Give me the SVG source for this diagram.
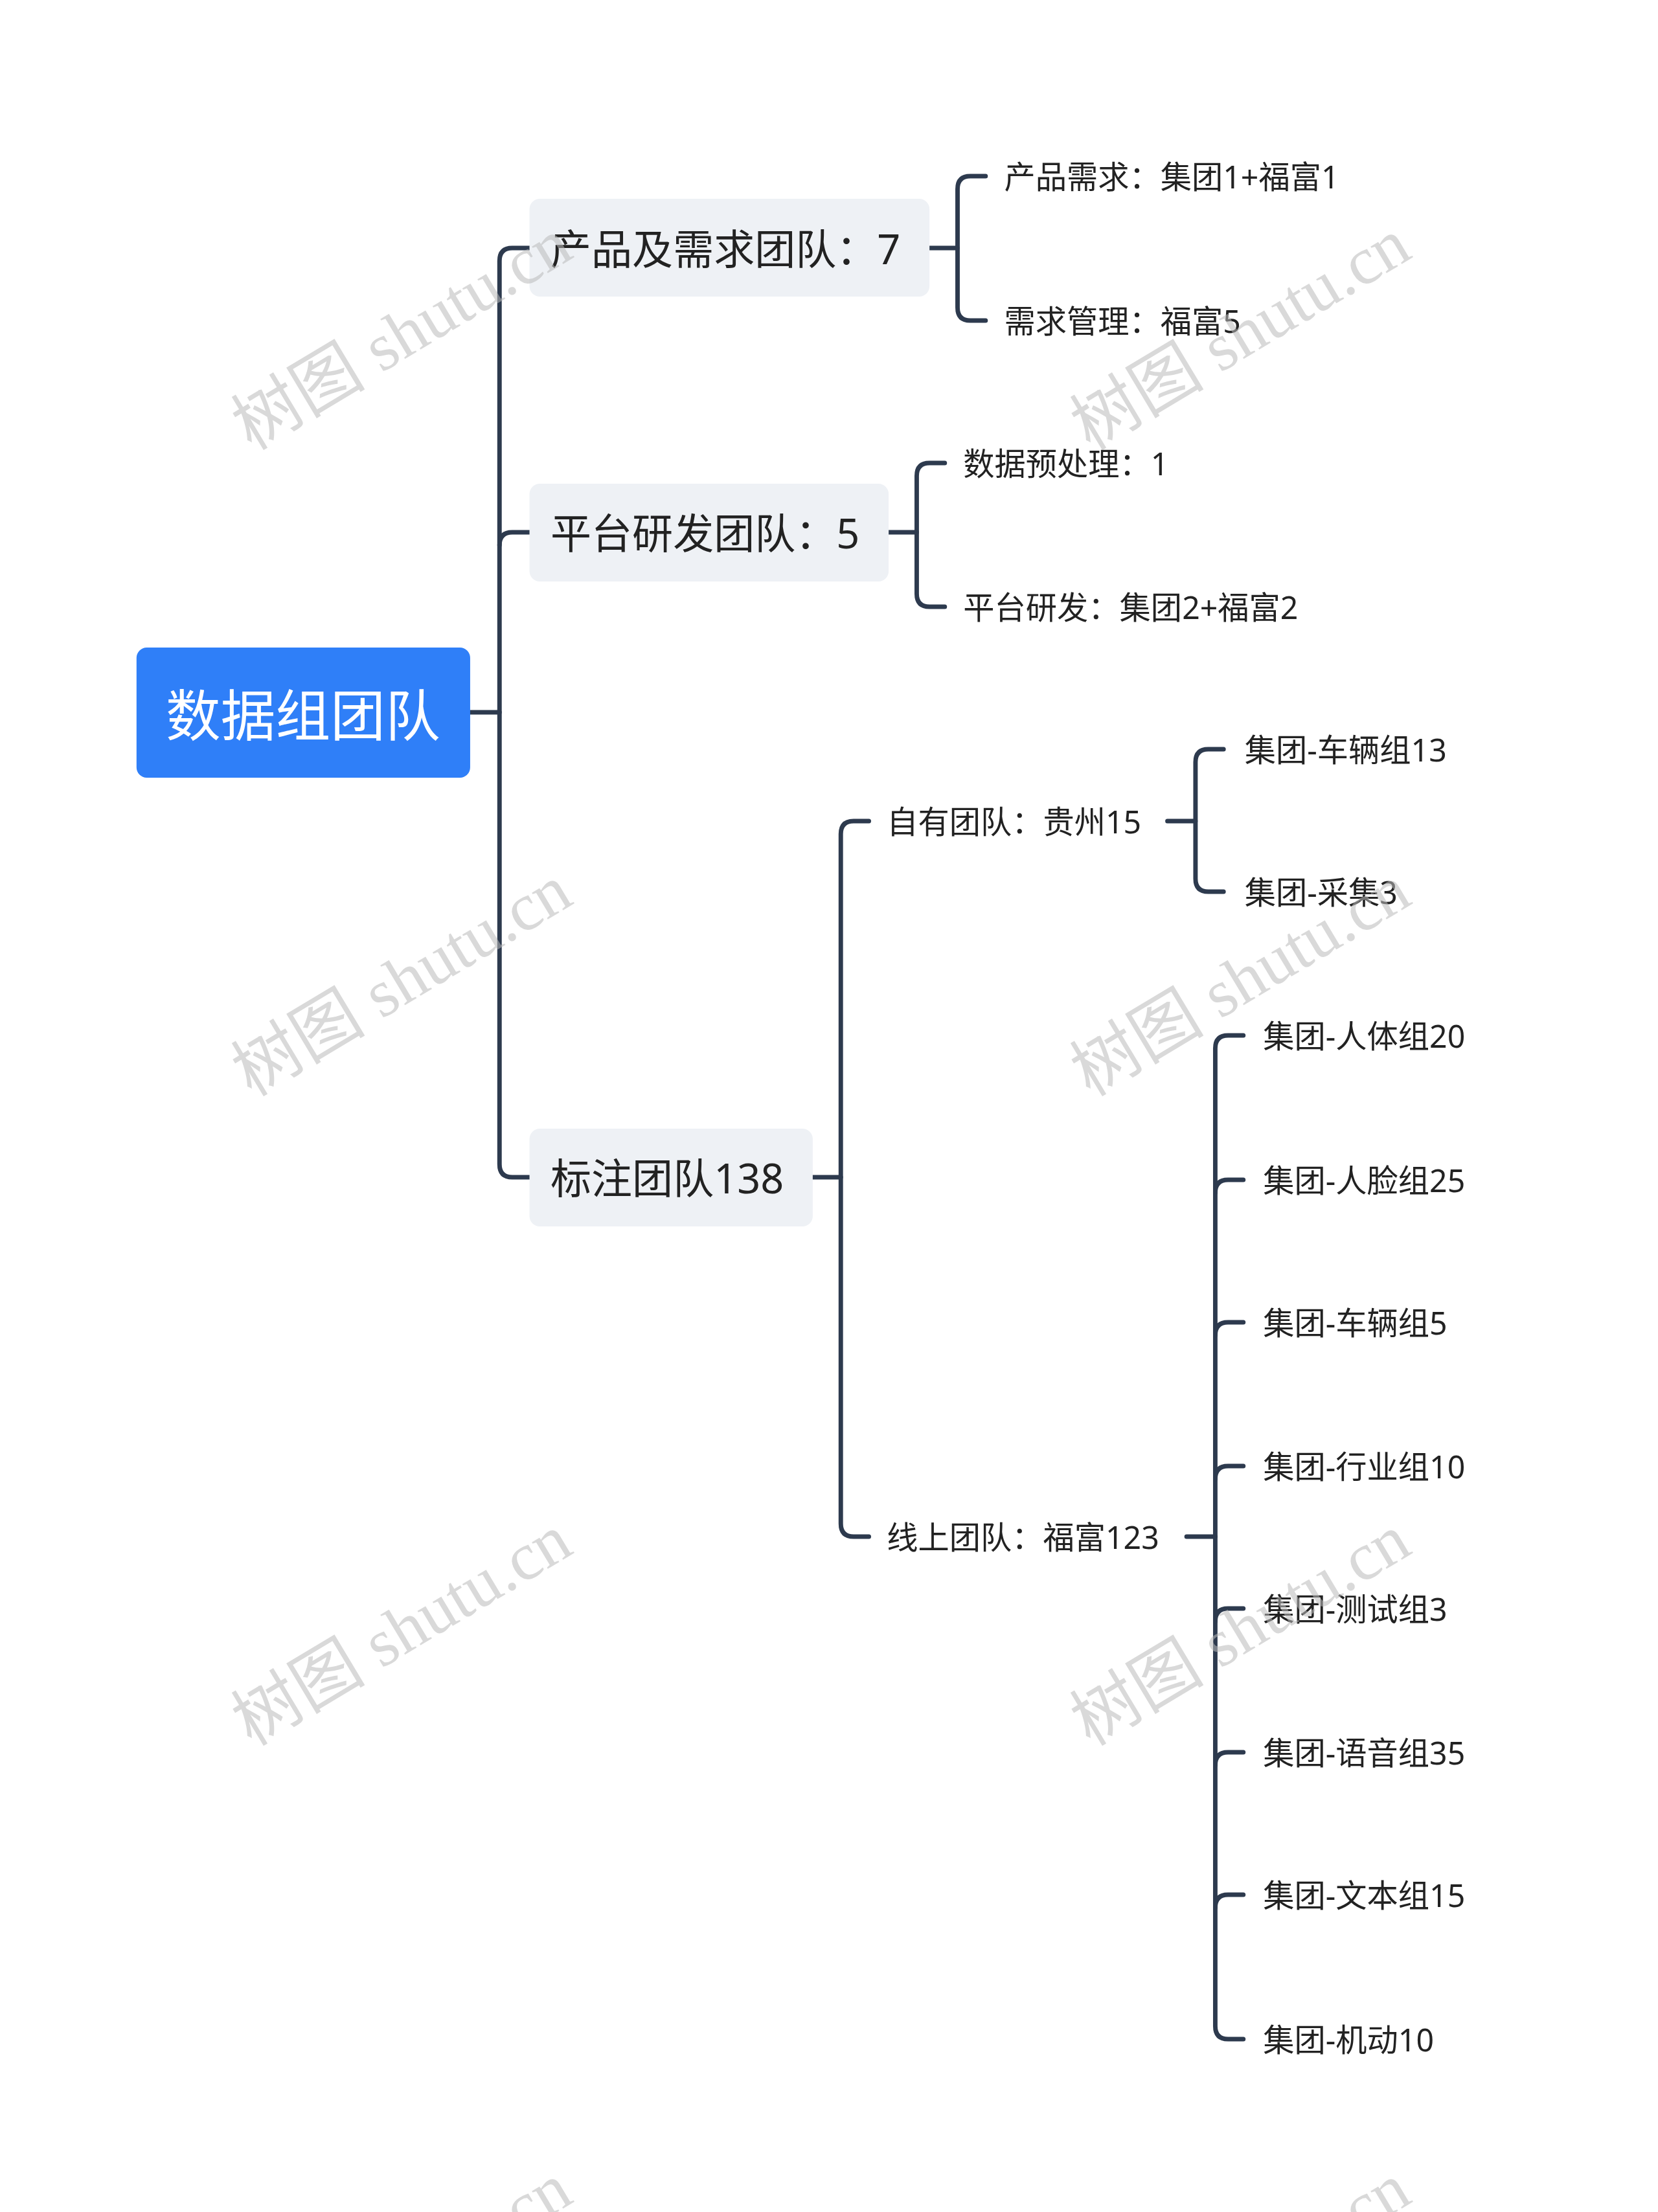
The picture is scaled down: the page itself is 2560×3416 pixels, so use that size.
<svg xmlns="http://www.w3.org/2000/svg" width="2560" height="3416" viewBox="0 0 2560 3416">
<style>
.ln{fill:none;stroke:#2d3a4e;stroke-width:7;stroke-linecap:round}
.t{font-family:"Noto Sans","Noto Sans CJK SC",sans-serif;fill:#222}
.l1{font-size:64px}
.l2{font-size:49px}
.wm{font-family:"Liberation Serif","Noto Sans CJK SC",serif;font-size:104px;fill:#bbb;opacity:0.55}
</style>
<rect width="2560" height="3416" fill="#fff"/>
<g transform="scale(0.985 1)">
<g id="connectors">
<path class="ln" d="M737 1100H783"/>
<path class="ln" d="M830 383H803Q783 383 783 403V1798Q783 1818 803 1818H830"/>
<path class="ln" d="M783 842Q783 822 803 822H830"/>
<path class="ln" d="M1457 383H1501"/>
<path class="ln" d="M1545 272H1521Q1501 272 1501 292V475Q1501 495 1521 495H1545"/>
<path class="ln" d="M1393 822H1437"/>
<path class="ln" d="M1481 715H1457Q1437 715 1437 735V917Q1437 937 1457 937H1481"/>
<path class="ln" d="M1274 1818H1318"/>
<path class="ln" d="M1362 1268H1338Q1318 1268 1318 1288V2353Q1318 2373 1338 2373H1362"/>
<path class="ln" d="M1830 1268H1874"/>
<path class="ln" d="M1918 1157H1894Q1874 1157 1874 1177V1357Q1874 1377 1894 1377H1918"/>
<path class="ln" d="M1860 2373H1905"/>
<path class="ln" d="M1949 1599H1925Q1905 1599 1905 1619V3129Q1905 3149 1925 3149H1949"/>
<path class="ln" d="M1905 1842Q1905 1822 1925 1822H1949"/>
<path class="ln" d="M1905 2062Q1905 2042 1925 2042H1949"/>
<path class="ln" d="M1905 2284Q1905 2264 1925 2264H1949"/>
<path class="ln" d="M1905 2504Q1905 2484 1925 2484H1949"/>
<path class="ln" d="M1905 2726Q1905 2706 1925 2706H1949"/>
<path class="ln" d="M1905 2946Q1905 2926 1925 2926H1949"/>
</g>
<g id="root"><rect x="214" y="1000" width="523" height="201" rx="16" fill="#2f7ff8"/><text x="475" y="1100" dominant-baseline="central" text-anchor="middle" font-family="Noto Sans CJK SC,sans-serif" font-size="86" fill="#fff">数据组团队</text></g>
<g id="n1"><rect x="830" y="307" width="627" height="151" rx="16" fill="#eef1f5"/><text class="t l1" x="863" y="383" dominant-baseline="central">产品及需求团队：7</text></g>
<g id="n2"><rect x="830" y="747" width="563" height="151" rx="16" fill="#eef1f5"/><text class="t l1" x="863" y="822" dominant-baseline="central">平台研发团队：5</text></g>
<g id="n3"><rect x="830" y="1743" width="444" height="151" rx="16" fill="#eef1f5"/><text class="t l1" x="863" y="1818" dominant-baseline="central">标注团队138</text></g>
<g id="n11"><text class="t l2" x="1574" y="272" dominant-baseline="central">产品需求：集团1+福富1</text></g>
<g id="n12"><text class="t l2" x="1574" y="495" dominant-baseline="central">需求管理：福富5</text></g>
<g id="n21"><text class="t l2" x="1510" y="715" dominant-baseline="central">数据预处理：1</text></g>
<g id="n22"><text class="t l2" x="1510" y="937" dominant-baseline="central">平台研发：集团2+福富2</text></g>
<g id="n31"><text class="t l2" x="1390" y="1268" dominant-baseline="central">自有团队：贵州15</text></g>
<g id="n32"><text class="t l2" x="1390" y="2373" dominant-baseline="central">线上团队：福富123</text></g>
<g id="n311"><text class="t l2" x="1951" y="1157" dominant-baseline="central">集团-车辆组13</text></g>
<g id="n312"><text class="t l2" x="1951" y="1377" dominant-baseline="central">集团-采集3</text></g>
<g id="n321"><text class="t l2" x="1980" y="1599" dominant-baseline="central">集团-人体组20</text></g>
<g id="n322"><text class="t l2" x="1980" y="1822" dominant-baseline="central">集团-人脸组25</text></g>
<g id="n323"><text class="t l2" x="1980" y="2042" dominant-baseline="central">集团-车辆组5</text></g>
<g id="n324"><text class="t l2" x="1980" y="2264" dominant-baseline="central">集团-行业组10</text></g>
<g id="n325"><text class="t l2" x="1980" y="2484" dominant-baseline="central">集团-测试组3</text></g>
<g id="n326"><text class="t l2" x="1980" y="2706" dominant-baseline="central">集团-语音组35</text></g>
<g id="n327"><text class="t l2" x="1980" y="2926" dominant-baseline="central">集团-文本组15</text></g>
<g id="n328"><text class="t l2" x="1980" y="3149" dominant-baseline="central">集团-机动10</text></g>
</g>
<g id="watermarks" text-anchor="middle">
<text class="wm" transform="translate(620 516) rotate(-31)" dominant-baseline="central">树图 shutu.cn</text>
<text class="wm" transform="translate(1915 516) rotate(-31)" dominant-baseline="central">树图 shutu.cn</text>
<text class="wm" transform="translate(620 1514) rotate(-31)" dominant-baseline="central">树图 shutu.cn</text>
<text class="wm" transform="translate(1915 1514) rotate(-31)" dominant-baseline="central">树图 shutu.cn</text>
<text class="wm" transform="translate(620 2517) rotate(-31)" dominant-baseline="central">树图 shutu.cn</text>
<text class="wm" transform="translate(1915 2517) rotate(-31)" dominant-baseline="central">树图 shutu.cn</text>
<text class="wm" transform="translate(620 3519) rotate(-31)" dominant-baseline="central">树图 shutu.cn</text>
<text class="wm" transform="translate(1915 3519) rotate(-31)" dominant-baseline="central">树图 shutu.cn</text>
</g>
</svg>
